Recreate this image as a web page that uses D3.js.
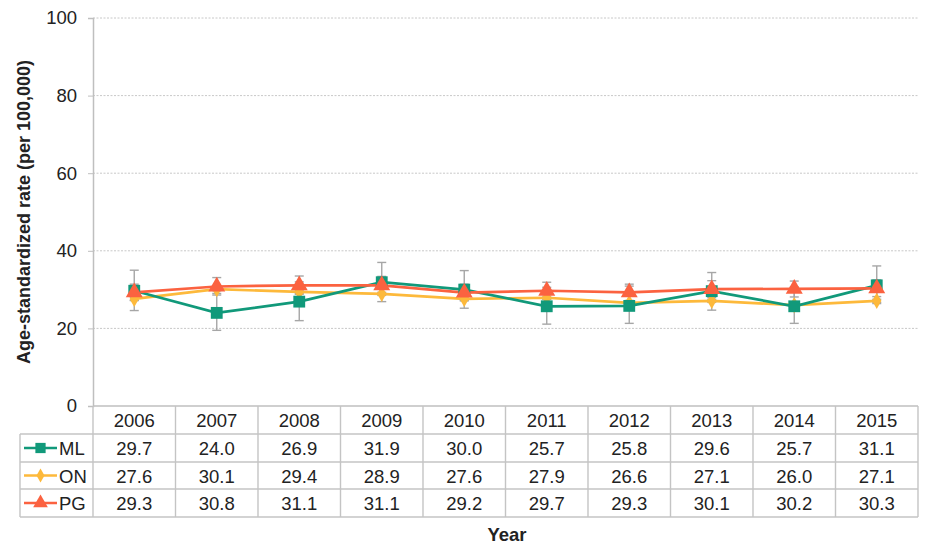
<!DOCTYPE html>
<html><head><meta charset="utf-8">
<script src="https://cdn.jsdelivr.net/npm/d3@7"></script>
<style>body{margin:0;background:#fff;}svg{display:block;font-family:"Liberation Sans",Arial,sans-serif;}</style>
</head><body><svg id="c" width="930" height="557"></svg>
<script>
const years = ["2006","2007","2008","2009","2010","2011","2012","2013","2014","2015"];
const seriesNames = ["ML","ON","PG"];
const mlValues = [29.7,24.0,26.9,31.9,30.0,25.7,25.8,29.6,25.7,31.1];
const onValues = [27.6,30.1,29.4,28.9,27.6,27.9,26.6,27.1,26.0,27.1];
const pgValues = [29.3,30.8,31.1,31.1,29.2,29.7,29.3,30.1,30.2,30.3];
const mlLower = [24.6,19.5,22.0,26.9,25.2,21.1,21.3,24.7,21.3,26.4];
const mlUpper = [35.0,29.0,32.0,37.0,34.9,30.6,30.9,34.4,30.7,36.1];
const onLower = [27.2,29.7,29.0,28.5,27.2,27.5,26.2,26.7,25.6,26.7];
const onUpper = [28.0,30.5,29.8,29.3,28.0,28.3,27.0,27.5,26.4,27.5];
const pgLower = [27.2,28.6,28.8,28.9,27.1,27.6,27.2,28.0,28.1,28.2];
const pgUpper = [31.4,33.1,33.5,33.4,31.4,31.9,31.4,32.3,32.2,32.5];
const yTicks = [0,20,40,60,80,100];
const colors = ["#11997A","#FDB93B","#FB6240"];
const shapes = [d3.symbolSquare, d3.symbolDiamond, d3.symbolTriangle];
const shapeSizes = [140, 75, 125];

const series = seriesNames.map((n,i)=>({name:n, values:[mlValues,onValues,pgValues][i],
  lower:[mlLower,onLower,pgLower][i], upper:[mlUpper,onUpper,pgUpper][i], color:colors[i], shape:shapes[i], size:shapeSizes[i]}));

const FS = "18.5px";
const svg = d3.select("#c");
const L=93, R=918, T=18, B=406;
const x = d3.scaleBand().domain(years).range([L,R]);
const y = d3.scaleLinear().domain([0,100]).range([B,T]);

// gridlines
svg.append("g").selectAll("line").data(yTicks.filter(t=>t>0)).join("line")
  .attr("x1",L).attr("x2",R).attr("y1",d=>y(d)).attr("y2",d=>y(d))
  .attr("stroke","#c8c8c8").attr("stroke-width",1).attr("stroke-dasharray","2,1.5");

// y axis
const ya = svg.append("g").attr("transform",`translate(${L},0)`)
  .call(d3.axisLeft(y).tickValues(yTicks).tickSize(5).tickPadding(11));
ya.select(".domain").attr("stroke","#bfbfbf").attr("stroke-width",1.5);
ya.selectAll(".tick line").attr("stroke","#bfbfbf");
ya.selectAll(".tick text").attr("font-size",FS).attr("fill","#222").attr("font-family","Liberation Sans, Arial, sans-serif");

svg.append("text").attr("transform",`translate(30,${(T+B)/2}) rotate(-90)`)
  .attr("text-anchor","middle").attr("font-weight","bold").attr("font-size","18px").attr("fill","#222")
  .text("Age-standardized rate (per 100,000)");

// error bars
const eb = svg.append("g");
series.forEach(s=>{
  years.forEach((yr,i)=>{
    const cx = x(yr)+x.bandwidth()/2;
    eb.append("line").attr("x1",cx).attr("x2",cx).attr("y1",y(s.lower[i])).attr("y2",y(s.upper[i])).attr("stroke","#a6a6a6").attr("stroke-width",1.4);
    [s.lower[i],s.upper[i]].forEach(v=>eb.append("line").attr("x1",cx-4.5).attr("x2",cx+4.5).attr("y1",y(v)).attr("y2",y(v)).attr("stroke","#a6a6a6").attr("stroke-width",1.4));
  });
});

const line = d3.line().x((d,i)=>x(years[i])+x.bandwidth()/2).y(d=>y(d));
[1,0,2].forEach(k=>{
  const s=series[k];
  svg.append("path").datum(s.values).attr("d",line).attr("fill","none").attr("stroke",s.color).attr("stroke-width",2.7);
});
[1,0,2].forEach(k=>{
  const s=series[k];
  svg.append("g").selectAll("path").data(s.values).join("path")
    .attr("d",d3.symbol().type(s.shape).size(s.size))
    .attr("transform",(d,i)=>`translate(${x(years[i])+x.bandwidth()/2},${y(d)})`)
    .attr("fill",s.color);
});

// data table
const tb = svg.append("g");
const rowY = [406,434,462,489,517];
const gc = "#c4c4c4";
tb.append("line").attr("x1",L).attr("x2",R).attr("y1",B).attr("y2",B).attr("stroke","#bfbfbf").attr("stroke-width",1.5);
for(let r=1;r<rowY.length;r++){
  tb.append("line").attr("x1",20).attr("x2",R).attr("y1",rowY[r]).attr("y2",rowY[r]).attr("stroke",gc).attr("stroke-width",1.4);
}
years.forEach((yr,i)=>{
  tb.append("line").attr("x1",x(yr)).attr("x2",x(yr)).attr("y1",B).attr("y2",rowY[4]).attr("stroke",gc).attr("stroke-width",1.4);
});
tb.append("line").attr("x1",R).attr("x2",R).attr("y1",B).attr("y2",rowY[4]).attr("stroke",gc).attr("stroke-width",1.4);
tb.append("line").attr("x1",20).attr("x2",20).attr("y1",rowY[1]).attr("y2",rowY[4]).attr("stroke",gc).attr("stroke-width",1.4);

years.forEach(yr=>{
  tb.append("text").attr("x",x(yr)+x.bandwidth()/2).attr("y",(rowY[0]+rowY[1])/2+7).attr("text-anchor","middle")
    .attr("font-size",FS).attr("fill","#222").text(yr);
});
series.forEach((s,k)=>{
  const cy=(rowY[k+1]+rowY[k+2])/2;
  tb.append("line").attr("x1",24).attr("x2",57).attr("y1",cy).attr("y2",cy).attr("stroke",s.color).attr("stroke-width",2.4);
  tb.append("path").attr("d",d3.symbol().type(s.shape).size(s.size*0.75)).attr("transform",`translate(40.5,${cy})`).attr("fill",s.color);
  tb.append("text").attr("x",59).attr("y",cy+7).attr("font-size",FS).attr("fill","#222").text(s.name);
  s.values.forEach((v,i)=>{
    tb.append("text").attr("x",x(years[i])+x.bandwidth()/2).attr("y",cy+7).attr("text-anchor","middle")
      .attr("font-size",FS).attr("fill","#222").text(v.toFixed(1));
  });
});
svg.append("text").attr("x",507).attr("y",541).attr("text-anchor","middle").attr("font-weight","bold").attr("font-size","18.5px").attr("fill","#222").text("Year");
</script></body></html>
